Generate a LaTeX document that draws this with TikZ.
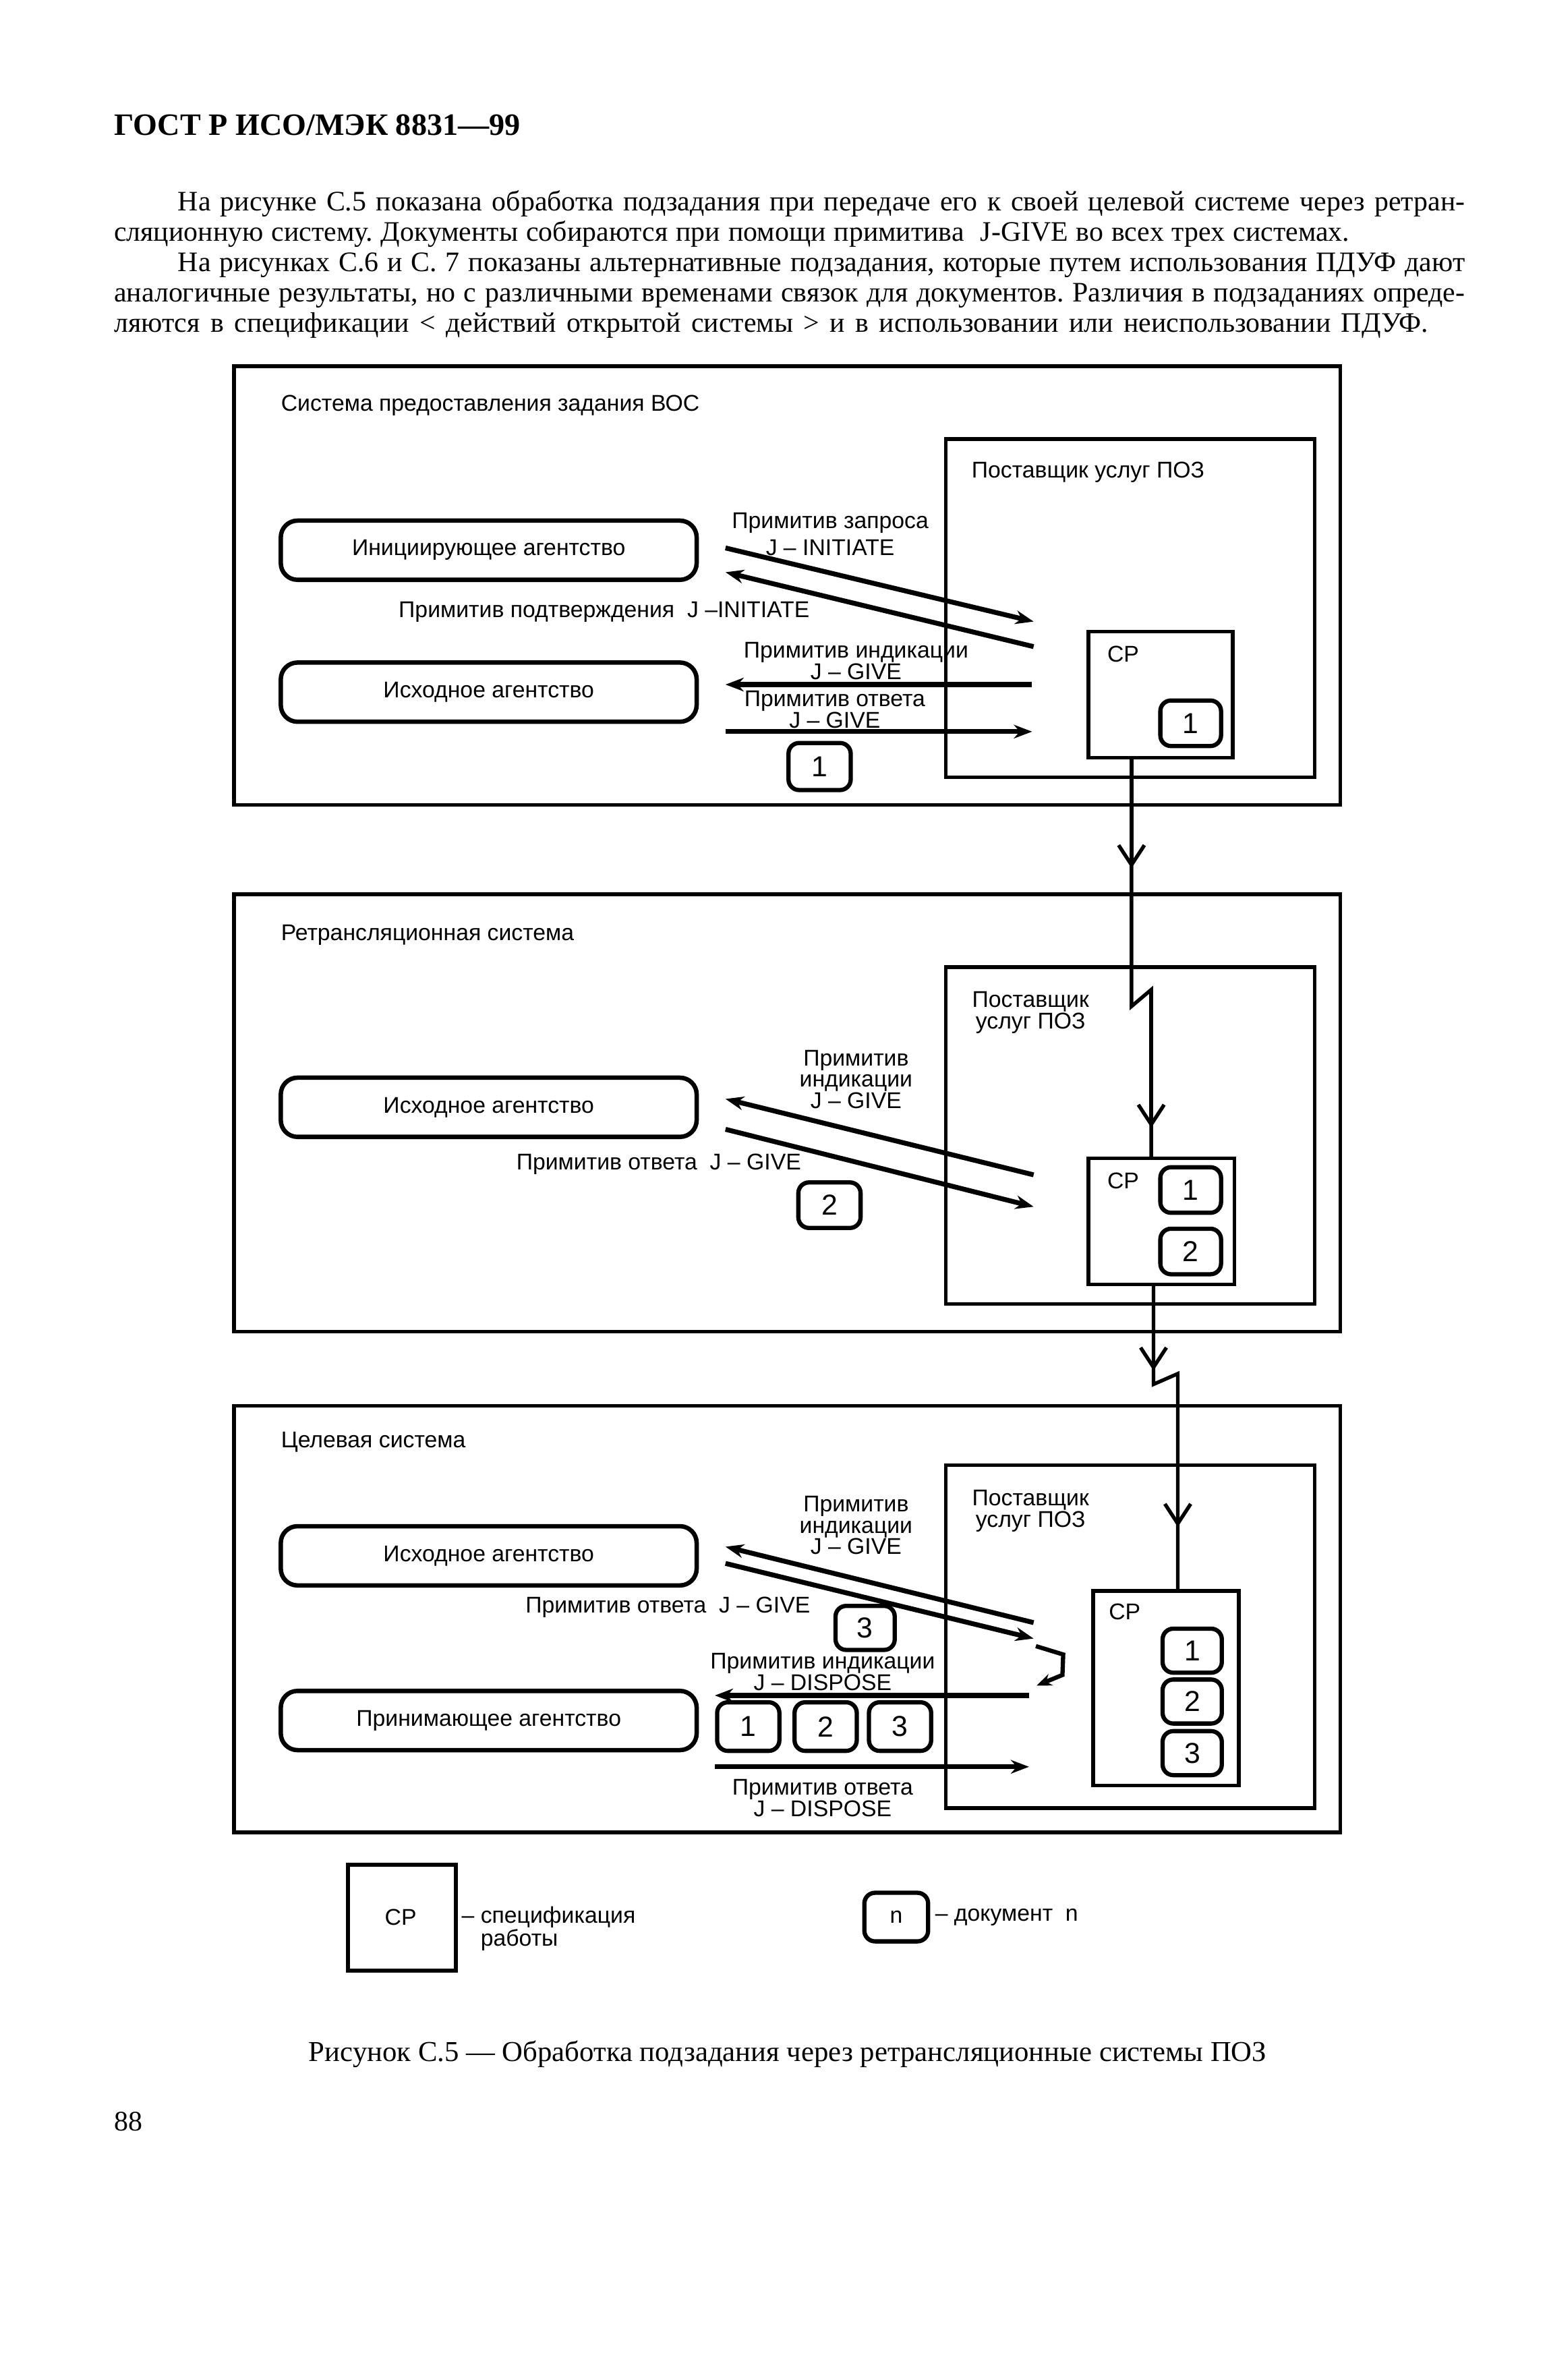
\documentclass[tikz,border=0pt]{standalone}
\usepackage{fontspec}
\setmainfont{Liberation Serif}
\setsansfont{Liberation Sans}
\usetikzlibrary{arrows.meta}
\newcommand{\lblfont}{\sffamily\fontsize{15}{14}\selectfont}
\newcommand{\lblfontw}{\sffamily\fontsize{15}{17.5}\selectfont}
\newcommand{\docfont}{\sffamily\fontsize{19}{20}\selectfont}
\newcommand{\mybodyfont}{\rmfamily\fontsize{18.6}{20}\selectfont\frenchspacing}
\begin{document}
\begin{tikzpicture}[x=1pt,y=-1pt,
  sysbox/.style={draw,line width=2.4pt,anchor=north west,inner sep=0pt},
  agency/.style={draw,line width=2.9pt,rounded corners=11pt,minimum width=274pt,minimum height=39pt,inner sep=0pt,font=\lblfont},
  doc/.style={draw,line width=2.8pt,rounded corners=7pt,minimum width=40pt,minimum height=30pt,inner sep=0pt,font=\docfont},
  lbl/.style={font=\lblfont,inner sep=0pt,align=center},
  lblw/.style={font=\lblfontw,inner sep=0pt,align=center},
  prim/.style={line width=3.2pt,-{Stealth[length=12pt,width=9pt]}},
  conn/.style={line width=2.4pt},
  barb/.style={conn,-{Straight Barb[length=13pt,width=17pt]}},
  body/.style={font=\mybodyfont,inner sep=0pt,anchor=base west},
]
\useasboundingbox[fill=white] (0,0) rectangle (1019,1568);

% ---------- header and text ----------
\node[anchor=base west,inner sep=0pt] (hdr) at (75,89) {\fontsize{20.5}{24}\selectfont\bfseries ГОСТ Р ИСО/МЭК 8831—99};
\node[body] (p1) at (117,139) {\makebox[848pt][s]{На рисунке С.5 показана обработка подзадания при передаче его к своей целевой системе через ретран-}};
\node[body] (p2) at (75,159) {\makebox[814pt][s]{сляционную систему. Документы собираются при помощи примитива \ J-GIVE во всех трех системах.}};
\node[body] (p3) at (117,179) {\makebox[848pt][s]{На рисунках С.6 и С. 7 показаны альтернативные подзадания, которые путем использования ПДУФ дают}};
\node[body] (p4) at (75,199) {\makebox[890pt][s]{аналогичные результаты, но с различными временами связок для документов. Различия в подзаданиях опреде-}};
\node[body] (p5) at (75,219) {\makebox[866pt][s]{ляются в спецификации < действий открытой системы > и в использовании или неиспользовании ПДУФ.}};

% ---------- system 1 ----------
\node[sysbox,minimum width=729pt,minimum height=289pt] (sys1) at (153,240) {};
\node[lbl,anchor=west] (t1) at (185,267) {Система предоставления задания ВОС};
\node[sysbox,minimum width=243pt,minimum height=223pt] (prov1) at (622,288) {};
\node[lbl,anchor=west] (pl1) at (640,311) {Поставщик услуг ПОЗ};
\node[sysbox,minimum width=95pt,minimum height=83pt] (cp1) at (716,415) {};
\node[lbl] (cpt1) at (740,431) {СР};
\node[doc] (d1a) at (784.5,476.5) {1};
\node[agency] (ag1) at (322,362.5) {Инициирующее агентство};
\node[agency] (ag2) at (322,456) {Исходное агентство};
\node[lblw] (l1) at (547,352) {Примитив запроса\\J – INITIATE};
\node[lbl] (l2) at (398,403) {Примитив подтверждения \ J –INITIATE};
\node[lbl] (l3) at (564,435.5) {Примитив индикации\\J – GIVE};
\node[lbl] (l4) at (550,467.5) {Примитив ответа\\J – GIVE};
\node[doc,minimum width=41pt,minimum height=31pt] (d1b) at (540,505) {1};

\coordinate (a1s) at (478,361);   \coordinate (a1e) at (681,409.5);
\coordinate (a2s) at (681,426);   \coordinate (a2e) at (478,377);
\coordinate (a3s) at (680,451);   \coordinate (a3e) at (478,451);
\coordinate (a4s) at (478,482);   \coordinate (a4e) at (680,482);
\draw[prim] (a1s) -- (a1e);
\draw[prim] (a2s) -- (a2e);
\draw[prim] (a3s) -- (a3e);
\draw[prim] (a4s) -- (a4e);

% ---------- system 2 ----------
\node[sysbox,minimum width=729pt,minimum height=288pt] (sys2) at (153,588) {};
\node[lbl,anchor=west] (t2) at (185,616) {Ретрансляционная система};
\node[sysbox,minimum width=243pt,minimum height=222pt] (prov2) at (622,636) {};
\node[lbl] (pl2) at (679,667) {\fontsize{15}{18}\selectfont Поставщик\\услуг ПОЗ};
\node[sysbox,minimum width=96pt,minimum height=83pt] (cp2) at (716,762) {};
\node[lbl] (cpt2) at (740,778) {СР};
\node[doc] (d2a) at (784.5,784) {1};
\node[doc] (d2b) at (784.5,824.5) {2};
\node[agency] (ag3) at (322,729.5) {Исходное агентство};
\node[lbl] (l5) at (564,711) {Примитив\\индикации\\J – GIVE};
\node[lbl] (l6) at (434,767) {Примитив ответа \ J – GIVE};
\node[doc,minimum width=41pt,minimum height=30pt] (d2c) at (546.5,794) {2};

\coordinate (b1s) at (681,774);   \coordinate (b1e) at (478,724);
\coordinate (b2s) at (478,744);   \coordinate (b2e) at (681,795);
\draw[prim] (b1s) -- (b1e);
\draw[prim] (b2s) -- (b2e);

% ---------- system 3 ----------
\node[sysbox,minimum width=729pt,minimum height=281pt] (sys3) at (153,925) {};
\node[lbl,anchor=west] (t3) at (185,950) {Целевая система};
\node[sysbox,minimum width=243pt,minimum height=226pt] (prov3) at (622,964) {};
\node[lbl] (pl3) at (679,995.5) {\fontsize{15}{17}\selectfont Поставщик\\услуг ПОЗ};
\node[sysbox,minimum width=96pt,minimum height=128pt] (cp3) at (719,1047) {};
\node[lbl] (cpt3) at (741,1062) {СР};
\node[doc,minimum width=39pt,minimum height=29pt] (d3a) at (785.5,1087.5) {1};
\node[doc,minimum width=39pt,minimum height=29pt] (d3b) at (785.5,1121) {2};
\node[doc,minimum width=39pt,minimum height=29pt] (d3c) at (785.5,1155) {3};
\node[agency] (ag4) at (322,1025) {Исходное агентство};
\node[agency] (ag5) at (322,1133.5) {Принимающее агентство};
\node[lbl] (l7) at (564,1005) {Примитив\\индикации\\J – GIVE};
\node[lbl] (l8) at (440,1059) {Примитив ответа \ J – GIVE};
\node[doc,minimum width=39pt,minimum height=29pt] (d3d) at (570,1072.5) {3};
\node[lbl] (l9) at (542,1101.5) {Примитив индикации\\J – DISPOSE};
\node[lbl] (l10) at (542,1184.5) {Примитив ответа\\J – DISPOSE};
\node[doc,minimum width=41pt,minimum height=32pt] (d3e) at (493,1137.5) {1};
\node[doc,minimum width=41pt,minimum height=32pt] (d3f) at (544,1137.5) {2};
\node[doc,minimum width=41pt,minimum height=32pt] (d3g) at (593,1137.5) {3};

\coordinate (c1s) at (681,1069);  \coordinate (c1e) at (478,1019);
\coordinate (c2s) at (478,1030);  \coordinate (c2e) at (681,1079.5);
\coordinate (c3s) at (678,1117);  \coordinate (c3e) at (471,1117);
\coordinate (c4s) at (471,1164);  \coordinate (c4e) at (678,1164);
\draw[prim] (c1s) -- (c1e);
\draw[prim] (c2s) -- (c2e);
\draw[prim] (c3s) -- (c3e);
\draw[prim] (c4s) -- (c4e);
\coordinate (k1) at (682.5,1084.5);
\coordinate (k2) at (700.5,1090);
\coordinate (k3) at (700,1103.5);
\coordinate (k4) at (683,1110.5);
\draw[line width=2.8pt,-{Stealth[length=10pt,width=8pt]}] (k1) -- (k2) -- (k3) -- (k4);

% ---------- vertical connectors ----------
\coordinate (x1) at (745.5,0);
\coordinate (z1a) at (745.5,663);
\coordinate (z1b) at (758.5,652);
\coordinate (v1) at (745.5,572);
\coordinate (v2) at (758.5,743);
\draw[conn] (cp1.south -| x1) -- (z1a) -- (z1b) -- (cp2.north -| z1b);
\draw[barb] (cp1.south -| x1) -- (v1);
\draw[barb] (z1b) -- (v2);

\coordinate (z2a) at (760,912);
\coordinate (z2b) at (776,905);
\coordinate (v3) at (760,903);
\coordinate (v4) at (776,1006);
\draw[conn] (cp2.south -| z2a) -- (z2a) -- (z2b) -- (cp3.north -| z2b);
\draw[barb] (cp2.south -| z2a) -- (v3);
\draw[barb] (z2b) -- (v4);

% ---------- legend ----------
\node[sysbox,line width=2.8pt,minimum width=71pt,minimum height=70pt] (lcp) at (228,1227) {};
\node[lbl] (lcpt) at (264,1263) {СР};
\node[lbl,align=left,anchor=west] (lcpd) at (304,1270.5) {\fontsize{15}{17}\selectfont – спецификация\\\hphantom{– }работы};
\node[doc,minimum width=42pt,minimum height=32pt,font=\lblfont] (ldoc) at (590.5,1263) {n};
\node[lbl,anchor=west] (ldocd) at (616,1263) {– документ \ n};

% ---------- caption ----------
\node[font=\mybodyfont,inner sep=0pt,anchor=base] (cap) at (519,1358) {\fontsize{19}{22}\selectfont Рисунок С.5 — Обработка подзадания через ретрансляционные системы ПОЗ};
\node[body] (pg) at (75,1404) {88};
\end{tikzpicture}
\end{document}
